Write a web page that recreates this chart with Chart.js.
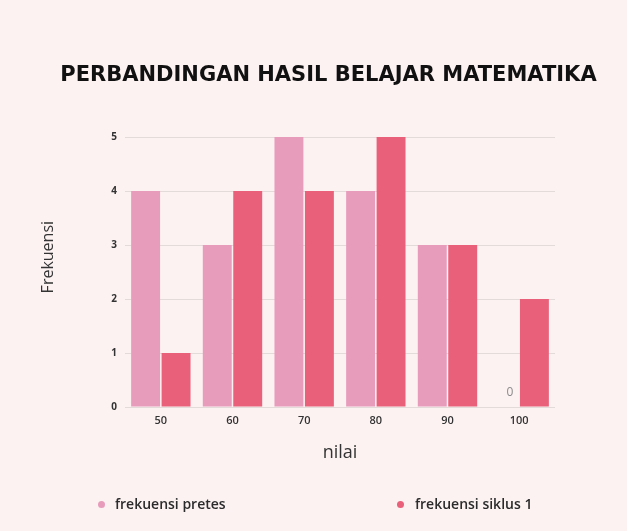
<!DOCTYPE html>
<html>
<head>
<meta charset="utf-8">
<script src="https://cdn.jsdelivr.net/npm/chart.js@4/dist/chart.umd.min.js"></script>
<style>
  html, body { margin: 0; padding: 0; background: #fdf2f2; }
  #wrap { position: relative; width: 627px; height: 531px; background: #fdf2f2; }
  #c { position: absolute; left: 0; top: 0; }
  .leg { position: absolute; top: 494px; height: 20px; line-height: 20px; font-family: 'Open Sans', sans-serif; font-weight: 600; font-size: 14px; color: #2b2b2b; white-space: nowrap; }
  .dot { position: absolute; top: 6.5px; width: 7px; height: 7px; border-radius: 50%; }
</style>
</head>
<body>
<div id="wrap">
  <canvas id="c" width="627" height="531"></canvas>
  <div class="leg" style="left:98px;"><span class="dot" style="left:0;background:#e89cbc;"></span><span style="margin-left:17px;">frekuensi pretes</span></div>
  <div class="leg" style="left:397px;"><span class="dot" style="left:0;background:#e8607a;"></span><span style="margin-left:18px;">frekuensi siklus 1</span></div>
</div>
<script>
const categories = ['50', '60', '70', '80', '90', '100'];
const pretesValues = [4, 3, 5, 4, 3, 0];
const siklusValues = [1, 4, 4, 5, 3, 2];
const seriesNames = ['frekuensi pretes', 'frekuensi siklus 1'];
const yTicks = [0, 1, 2, 3, 4, 5];
const yTitle = 'Frekuensi';
const chartTitle = 'PERBANDINGAN HASIL BELAJAR MATEMATIKA';

const zeroLabelPlugin = {
  id: 'zeroLabel',
  afterDatasetsDraw(chart) {
    const ctx = chart.ctx;
    chart.data.datasets.forEach((ds, di) => {
      const meta = chart.getDatasetMeta(di);
      meta.data.forEach((el, i) => {
        if (ds.data[i] === 0) {
          ctx.save();
          ctx.font = "12px 'Open Sans', sans-serif";
          ctx.fillStyle = '#8a8a8a';
          ctx.textAlign = 'center';
          ctx.textBaseline = 'bottom';
          ctx.fillText(String(ds.data[i]), el.x + 6, el.y - 8);
          ctx.restore();
        }
      });
    });
  }
};

const textPlugin = {
  id: 'textDraw',
  afterDraw(chart) {
    const ctx = chart.ctx;
    const a = chart.chartArea;
    ctx.save();
    ctx.translate(a.left - 77, a.top + (a.bottom - a.top) * 0.445);
    ctx.rotate(-Math.PI / 2);
    ctx.font = "16px 'Open Sans', sans-serif";
    ctx.fillStyle = '#333';
    ctx.textAlign = 'center';
    ctx.textBaseline = 'middle';
    ctx.fillText(yTitle, 0, 0);
    ctx.restore();

    ctx.save();
    ctx.font = "bold 21px 'DejaVu Sans', sans-serif";
    ctx.fillStyle = '#111';
    ctx.textAlign = 'center';
    ctx.textBaseline = 'middle';
    ctx.fillText(chartTitle, chart.width / 2 + 15, 76);
    ctx.restore();
  }
};

new Chart(document.getElementById('c'), {
  type: 'bar',
  data: {
    labels: categories,
    datasets: [
      { label: seriesNames[0], data: pretesValues, backgroundColor: '#e89cbc', categoryPercentage: 0.85, barPercentage: 0.95 },
      { label: seriesNames[1], data: siklusValues, backgroundColor: '#e8607a', categoryPercentage: 0.85, barPercentage: 0.95 }
    ]
  },
  options: {
    responsive: false,
    animation: false,
    layout: { padding: { left: 30, right: 72, top: 137, bottom: 54 } },
    plugins: {
      legend: { display: false },
      tooltip: { enabled: false },
      title: { display: false }
    },
    scales: {
      x: {
        grid: { display: false, drawTicks: false },
        border: { display: false },
        ticks: { color: '#333', font: { family: 'Open Sans', size: 11, weight: '600' }, padding: 7 },
        title: { display: true, text: 'nilai', color: '#333', font: { family: 'Open Sans', size: 18 }, padding: { top: 10, bottom: 13 } },
        afterFit(s) { s.height = 70; }
      },
      y: {
        min: 0, max: 5,
        afterBuildTicks(s) { s.ticks = yTicks.map(v => ({ value: v })); },
        grid: { color: '#e3dada', drawTicks: false },
        border: { display: false },
        ticks: { color: '#333', font: { family: 'Open Sans', size: 10, weight: '700' }, padding: 8 },
        afterFit(s) { s.width = 95; }
      }
    }
  },
  plugins: [zeroLabelPlugin, textPlugin]
});
</script>
</body>
</html>
